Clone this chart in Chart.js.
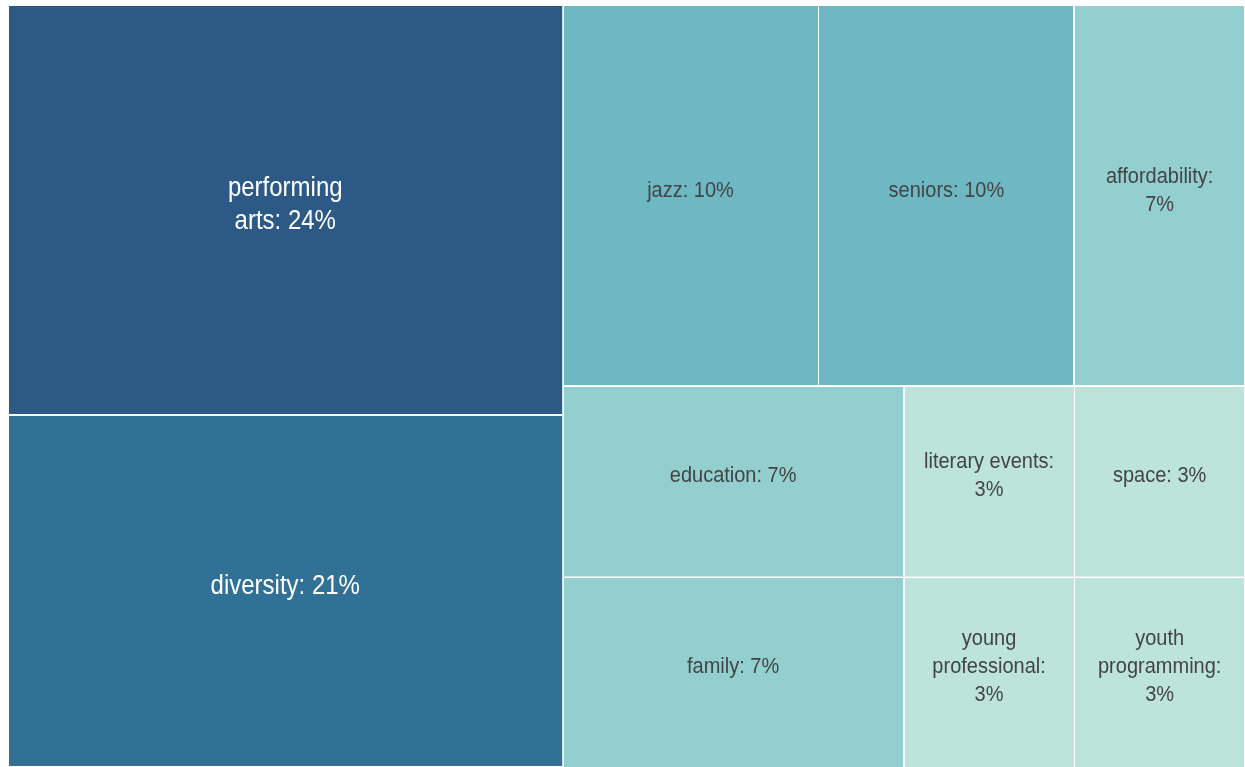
<!DOCTYPE html>
<html>
<head>
<meta charset="utf-8">
<script src="https://cdn.jsdelivr.net/npm/chart.js@4.4.0/dist/chart.umd.min.js"></script>
<style>
  html, body { margin: 0; padding: 0; background: #fff; }
  #wrap { width: 1245px; height: 767px; }
</style>
</head>
<body>
<div id="wrap"><canvas id="chart"></canvas></div>
<script>
// topic counts, largest first (order the treemap is tiled in)
const categories = ["performing arts", "diversity", "jazz", "seniors", "affordability", "education",
                    "family", "literary events", "space", "young professional", "youth programming"];
const counts = [7, 6, 3, 3, 2, 2, 2, 1, 1, 1, 1];
// the reference breaks this one label by hand
const forcedBreaks = { "performing arts": "performing\narts" };

// colour scale keyed by count
const colorStops = [[1, "#bce4da"], [2, "#94cfd0"], [3, "#6eb8c3"], [6, "#317196"], [7, "#2c5985"]];

const total = counts.reduce((a, b) => a + b, 0);
const PHI = (1 + Math.sqrt(5)) / 2;

function hexToRgb(h) {
  const n = parseInt(h.slice(1), 16);
  return [(n >> 16) & 255, (n >> 8) & 255, n & 255];
}

function colorFor(v) {
  if (v <= colorStops[0][0]) return colorStops[0][1];
  for (let i = 1; i < colorStops.length; i++) {
    const [v1, c1] = colorStops[i];
    const [v0, c0] = colorStops[i - 1];
    if (v <= v1) {
      const t = (v - v0) / (v1 - v0);
      const a = hexToRgb(c0), b = hexToRgb(c1);
      return "rgb(" + a.map((x, k) => Math.round(x + (b[k] - x) * t)).join(",") + ")";
    }
  }
  return colorStops[colorStops.length - 1][1];
}

// squarified tiling, same rules as d3.treemapSquarify (golden ratio)
function squarify(values, x0, y0, x1, y1) {
  const out = new Array(values.length);
  const n = values.length;
  let value = values.reduce((a, b) => a + b, 0);
  let i0 = 0, i1 = 0;
  while (i0 < n) {
    const dx = x1 - x0, dy = y1 - y0;
    let sum = values[i1++];
    let minV = sum, maxV = sum;
    const alpha = Math.max(dy / dx, dx / dy) / (value * PHI);
    let beta = sum * sum * alpha;
    let minRatio = Math.max(maxV / beta, beta / minV);
    for (; i1 < n; ++i1) {
      const v = values[i1];
      sum += v;
      if (v < minV) minV = v;
      if (v > maxV) maxV = v;
      beta = sum * sum * alpha;
      const r = Math.max(maxV / beta, beta / minV);
      if (r > minRatio) { sum -= v; break; }
      minRatio = r;
    }
    if (dx < dy) {
      const yEnd = y0 + dy * sum / value;
      let x = x0;
      for (let i = i0; i < i1; i++) {
        const w = dx * values[i] / sum;
        out[i] = { x0: x, y0: y0, x1: x + w, y1: yEnd };
        x += w;
      }
      y0 = yEnd;
    } else {
      const xEnd = x0 + dx * sum / value;
      let y = y0;
      for (let i = i0; i < i1; i++) {
        const h = dy * values[i] / sum;
        out[i] = { x0: x0, y0: y, x1: xEnd, y1: y + h };
        y += h;
      }
      x0 = xEnd;
    }
    value -= sum;
    i0 = i1;
  }
  return out;
}

function wrapText(ctx, text, maxW) {
  const lines = [];
  text.split("\n").forEach(part => {
    let cur = "";
    part.split(" ").forEach(word => {
      const test = cur ? cur + " " + word : word;
      if (cur && ctx.measureText(test).width > maxW) {
        lines.push(cur);
        cur = word;
      } else {
        cur = test;
      }
    });
    lines.push(cur);
  });
  return lines;
}

const treemapCells = {
  id: "treemapCells",
  afterDatasetsDraw(chart) {
    const { ctx, chartArea, scales } = chart;
    const W = chartArea.width, H = chartArea.height;
    const tiles = squarify(counts, 0, 0, W, H);
    const stretch = 1.12; // reference glyphs are a bit taller than plain Arial

    ctx.save();
    tiles.forEach((t, i) => {
      const px0 = scales.x.getPixelForValue(t.x0 / W);
      const px1 = scales.x.getPixelForValue(t.x1 / W);
      const py0 = scales.y.getPixelForValue(t.y0 / H);
      const py1 = scales.y.getPixelForValue(t.y1 / H);
      const w = px1 - px0, h = py1 - py0;

      ctx.fillStyle = colorFor(counts[i]);
      ctx.fillRect(px0, py0, w, h);
      ctx.strokeStyle = "#ffffff";
      ctx.lineWidth = 1;
      ctx.strokeRect(Math.round(px0) + 0.5, Math.round(py0) + 0.5, Math.round(w) - 1, Math.round(h) - 1);

      const size = Math.min(w, h) > 300 ? 24 : 20;
      ctx.font = size + "px 'Liberation Sans', Arial, sans-serif";
      const name = forcedBreaks[categories[i]] || categories[i];
      const pct = Math.round(counts[i] / total * 100);
      const lines = wrapText(ctx, name + ": " + pct + "%", w - 32);
      const lh = size * 1.4;
      const cx = px0 + w / 2;
      const cy = py0 + h / 2 - 5;
      ctx.fillStyle = counts[i] >= 5 ? "#ffffff" : "#444444";
      ctx.textAlign = "center";
      ctx.textBaseline = "middle";
      lines.forEach((ln, k) => {
        const ly = cy + (k - (lines.length - 1) / 2) * lh;
        ctx.save();
        ctx.translate(cx, ly);
        ctx.scale(1, stretch);
        ctx.fillText(ln, 0, 0);
        ctx.restore();
      });
    });
    ctx.restore();
  }
};

new Chart(document.getElementById("chart"), {
  type: "scatter",
  data: {
    datasets: [{ label: "topics", data: [], pointRadius: 0 }]
  },
  options: {
    responsive: true,
    maintainAspectRatio: false,
    animation: false,
    layout: { padding: { left: 8, top: 5, right: 0, bottom: 0 } },
    plugins: {
      legend: { display: false },
      tooltip: { enabled: false }
    },
    scales: {
      x: { type: "linear", min: 0, max: 1, display: false },
      y: { type: "linear", min: 0, max: 1, reverse: true, display: false }
    }
  },
  plugins: [treemapCells]
});
</script>
</body>
</html>
